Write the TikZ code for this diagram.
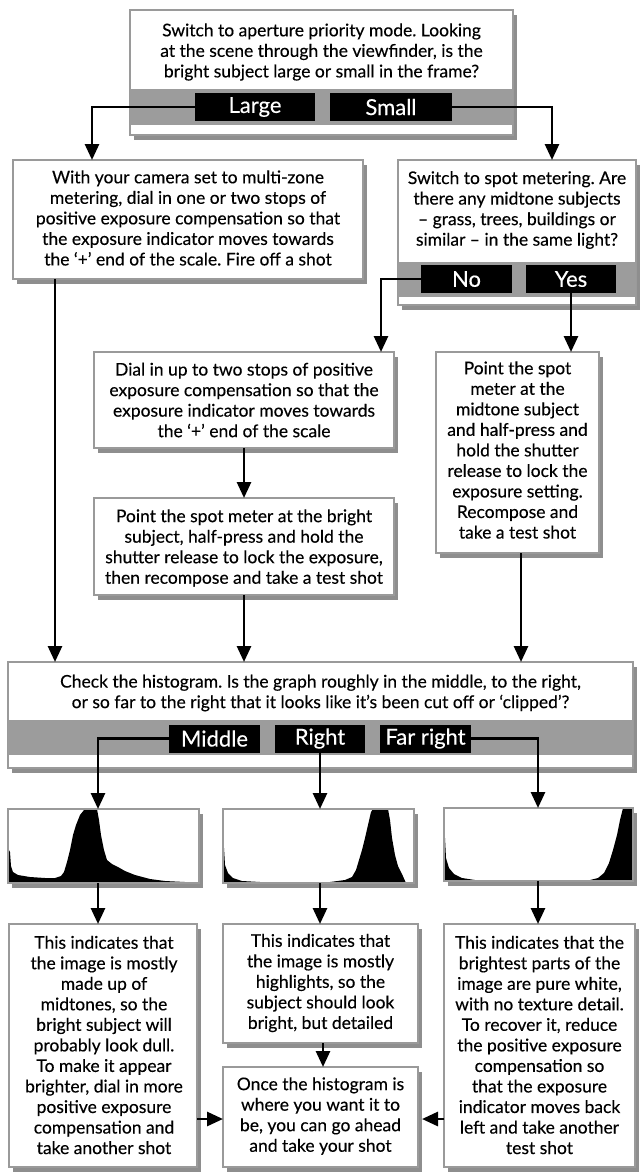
\documentclass[tikz,border=0pt]{standalone}
\usepackage{fontspec}
\setmainfont{Lato}[FakeBold=0.3]
\frenchspacing
\usetikzlibrary{fit,shadows,arrows.meta}

\definecolor{rim}{HTML}{9A9A9A}
\definecolor{shade}{HTML}{8E8E8E}
\definecolor{bandgray}{HTML}{9C9C9C}

\newcommand\txtsize{\fontsize{13.1pt}{15.4pt}\selectfont}
\newcommand\lblsize{\fontsize{16.5pt}{18pt}\selectfont}

\tikzset{
  panel/.style={draw=rim, line width=1.3pt, fill=white, inner sep=0pt, outer sep=0pt,
    drop shadow={shadow xshift=3pt, shadow yshift=-3.75pt, fill=shade, opacity=1}},
  copy/.style={align=center, font=\txtsize, inner sep=0pt},
  tag/.style={fill=black, text=white, font=\lblsize, inner sep=0pt, minimum height=21pt},
  link/.style={line width=2.1pt, -{Triangle[width=10.5pt,length=12pt]}},
}

\begin{document}
\begin{tikzpicture}[x=0.75pt,y=-0.75pt]
\useasboundingbox (0,0) rectangle (640,1172);
\fill[white] (0,0) rectangle (640,1172);

% ---------- question: size of the bright subject ----------
\node[panel, fit={(130,10) (513,135)}] (q1) {};
\fill[bandgray] (130,89) rectangle (513,125);
\node[copy] (t1) at (321.5,52) {Switch to aperture priority mode. Looking\\at the scene through the viewfinder, is the\\bright subject large or small in the frame?};
\node[tag, minimum width=90pt] (lL) at (255,107) {Large};
\node[tag, minimum width=91.5pt] (lS) at (391,107) {Small};

% ---------- large subject ----------
\node[panel, fit={(13,160) (363,279)}] (q2) {};
\node[copy] (t2) at (188,218) {With your camera set to multi-zone\\metering, dial in one or two stops of\\positive exposure compensation so that\\the exposure indicator moves towards\\the ‘+’ end of the scale. Fire off a shot};

% ---------- small subject ----------
\node[panel, fit={(398,160) (636,305)}] (q3) {};
\fill[bandgray] (398,262) rectangle (636,297);
\node[copy] (t3) at (517,210) {Switch to spot metering. Are\\there any midtone subjects\\– grass, trees, buildings or\\similar – in the same light?};
\node[tag, minimum width=68.25pt] (lN) at (466.5,279) {No};
\node[tag, minimum width=67.5pt] (lY) at (571,279) {Yes};

\node[panel, fit={(94,352) (394,448)}] (q4) {};
\node[copy] (t4) at (244,400) {Dial in up to two stops of positive\\exposure compensation so that the\\exposure indicator moves towards\\the ‘+’ end of the scale};

\node[panel, fit={(94,498) (394,595)}] (q6) {};
\node[copy] (t6) at (244,548) {Point the spot meter at the bright\\subject, half-press and hold the\\shutter release to lock the exposure,\\then recompose and take a test shot};

\node[panel, fit={(436,352) (599,553)}] (q5) {};
\node[copy] (t5) at (517.5,450) {Point the spot\\meter at the\\midtone subject\\and half-press and\\hold the shutter\\release to lock the\\exposure setting.\\Recompose and\\take a test shot};

% ---------- histogram check ----------
\node[panel, fit={(8,662) (633,768)}] (q7) {};
\fill[bandgray] (8,720) rectangle (633,755);
\node[copy] (t7) at (320.5,693) {Check the histogram. Is the graph roughly in the middle, to the right,\\or so far to the right that it looks like it’s been cut off or ‘clipped’?};
\node[tag, minimum width=68.25pt] (lM) at (214.5,738.5) {Middle};
\node[tag, minimum width=67.5pt] (lR) at (320,738.5) {Right};
\node[tag, minimum width=68.25pt] (lF) at (425.5,738.5) {Far right};

% ---------- histograms ----------
\node[panel, fit={(8,809) (199,883)}] (h1) {};
\fill (9,883) -- (9,850) -- (10,852) -- (11,866) -- (13,872) -- (18,875) -- (30,877) -- (45,878)
  -- (55,878) -- (61,876) -- (64,872) -- (67,862) -- (70,850) -- (73,835) -- (76,825)
  -- (80,815) -- (84,810) -- (86,809) -- (97,809) -- (99,820) -- (101,835) -- (104,850)
  -- (107,860) -- (112,864) -- (118,867) -- (125,871) -- (135,875) -- (150,879)
  -- (165,881) -- (185,882) -- (198,883) -- cycle;
\draw[rim, line width=1.3pt] (h1.north west) rectangle (h1.south east);

\node[panel, fit={(223,809) (414,883)}] (h2) {};
\fill (224,883) -- (224,848) -- (225,865) -- (228,873) -- (233,878) -- (242,881) -- (260,882)
  -- (330,882) -- (345,880) -- (352,877) -- (356,870) -- (359,860) -- (362,850) -- (365,838)
  -- (368,825) -- (371,812) -- (373,809) -- (388,809) -- (390,820) -- (392,838) -- (395,855)
  -- (398,866) -- (402,874) -- (406,883) -- cycle;
\draw[rim, line width=1.3pt] (h2.north west) rectangle (h2.south east);

\node[panel, fit={(444,808) (633,881)}] (h3) {};
\fill (445,881) -- (445,838) -- (446,858) -- (449,868) -- (454,874) -- (462,878) -- (475,880)
  -- (590,880) -- (598,878) -- (604,873) -- (609,863) -- (613,850) -- (617,835) -- (620,820)
  -- (623,808) -- (633,808) -- (633,881) -- cycle;
\draw[rim, line width=1.3pt] (h3.north west) rectangle (h3.south east);

% ---------- outcomes ----------
\node[panel, fit={(9,924) (197,1167)}] (q8) {};
\node[copy] (t8) at (104,1045) {This indicates that\\the image is mostly\\made up of\\midtones, so the\\bright subject will\\probably look dull.\\To make it appear\\brighter, dial in more\\positive exposure\\compensation and\\take another shot};

\node[panel, fit={(223,924) (418,1043)}] (q9) {};
\node[copy] (t9) at (320.5,983) {This indicates that\\the image is mostly\\highlights, so the\\subject should look\\bright, but detailed};

\node[panel, fit={(223,1067) (418,1167)}] (q10) {};
\node[copy] (t10) at (320.5,1116) {Once the histogram is\\where you want it to\\be, you can go ahead\\and take your shot};

\node[panel, fit={(444,924) (635,1167)}] (q11) {};
\node[copy] (t11) at (539.5,1045) {This indicates that the\\brightest parts of the\\image are pure white,\\with no texture detail.\\To recover it, reduce\\the positive exposure\\compensation so\\that the exposure\\indicator moves back\\left and take another\\test shot};

% ---------- entry and exit points on the boxes ----------
\path (q2.north west) ++(79,0) coordinate (q2in);
\path (q2.south west) ++(42,0) coordinate (q2out);
\path (q3.north west) ++(154,0) coordinate (q3in);
\path (q4.north west) ++(287,0) coordinate (q4in);
\path (q5.south west) ++(85,0) coordinate (q5out);
\path (h1.north west) ++(90,0) coordinate (h1in);
\path (h3.north west) ++(94,0) coordinate (h3in);
\path (q9.south west) ++(100,0) coordinate (q9out);
\path (q10.west) ++(0,2) coordinate (q10l);
\path (q10.east) ++(4,2) coordinate (q10r);

% ---------- connectors ----------
\draw[link] (lL.west) -| (q2in);
\draw[link] (lS.east) -| (q3in);
\draw[link] (lN.west) -| (q4in);
\draw[link] (lY.south) -- (lY.south |- q5.north);
\draw[link] (q4.south) -- (q6.north);
\draw[link] (q2out) -- (q2out |- q7.north);
\draw[link] (q6.south) -- (q6.south |- q7.north);
\draw[link] (q5out) -- (q5out |- q7.north);
\draw[link] (lM.west) -| (h1in);
\draw[link] (lR.south) -- (lR.south |- h2.north);
\draw[link] (lF.east) -| (h3in);
\draw[link] (h1.south -| h1in) -- (q8.north -| h1in);
\draw[link] (h2.south -| lR.south) -- (q9.north -| lR.south);
\draw[link] (h3.south -| h3in) -- (q11.north -| h3in);
\draw[link] (q9out) -- (q9out |- q10.north);
\draw[link] (q8.east |- q10l) -- (q10l);
\draw[link] (q11.west |- q10r) -- (q10r);
\end{tikzpicture}
\end{document}
